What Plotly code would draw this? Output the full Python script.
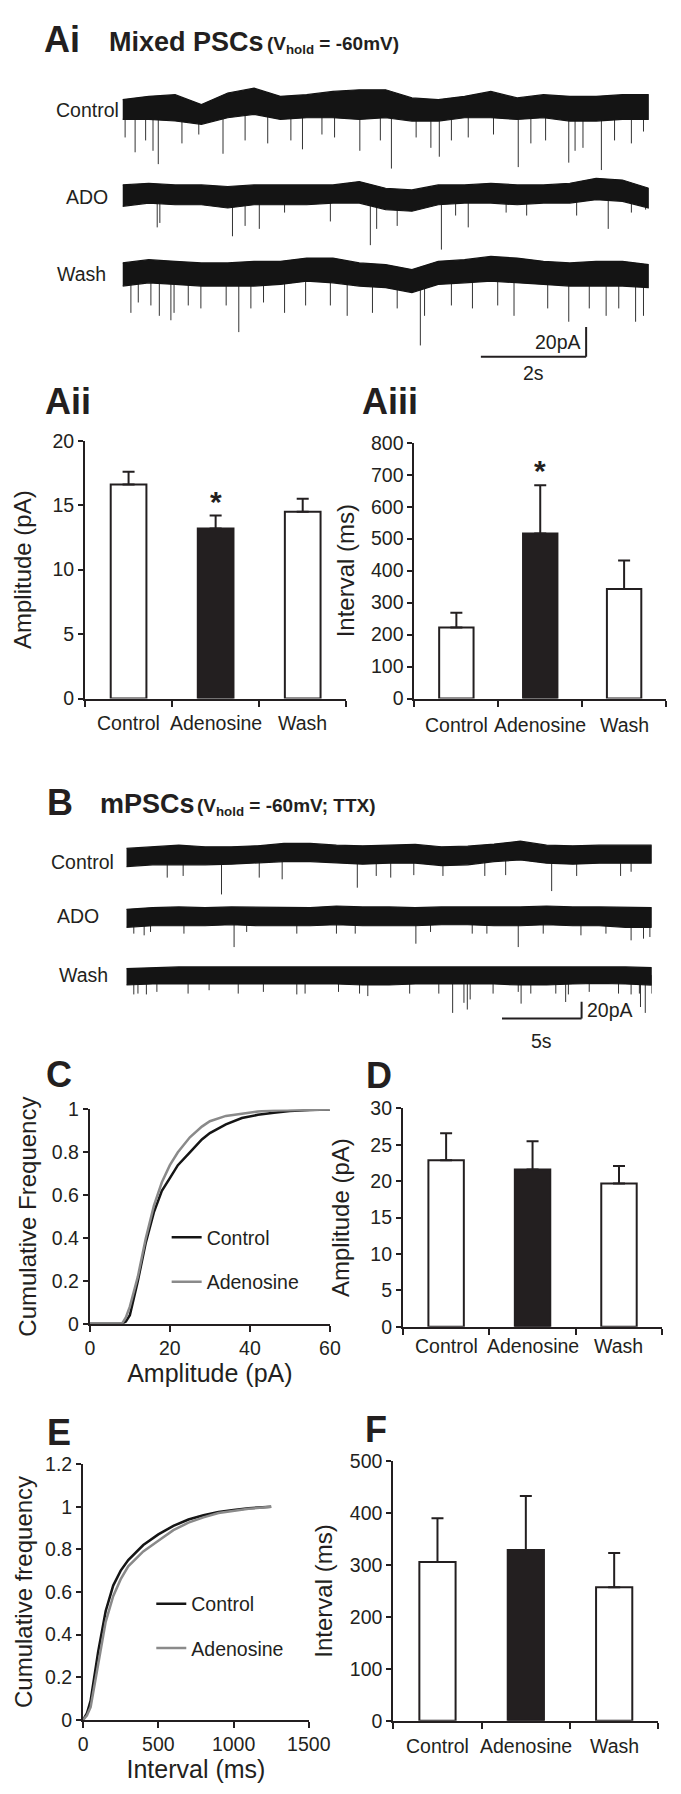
import plotly.graph_objects as go

# ---------------- data ----------------
CONDITIONS = ["Control", "Adenosine", "Wash"]

# Ai traces (time s, current pA relative to baseline)
AI_ENV_T = [0.0, 0.5, 1.0, 1.5, 2.0, 2.5, 3.0, 3.5, 4.0, 4.5, 5.0, 5.5, 6.0, 6.5, 7.0, 7.5, 8.0, 8.5, 9.0, 9.5, 10.0]
AI_CTRL_TOP = [7.6, 9.8, 10.9, 4.2, 12.0, 15.3, 9.8, 10.9, 13.1, 14.2, 14.2, 8.7, 7.6, 9.8, 13.1, 8.7, 10.9, 9.8, 9.8, 10.9, 10.9]
AI_CTRL_BOT = [-5.8, -5.8, -6.9, -9.1, -4.7, -2.4, -5.8, -4.7, -4.7, -5.8, -4.7, -6.9, -6.9, -4.7, -4.7, -5.8, -4.7, -6.9, -6.9, -5.8, -5.8]
AI_ADO_TOP = [6.7, 7.8, 6.7, 6.7, 5.6, 6.7, 6.7, 6.7, 6.7, 8.9, 4.4, 3.3, 6.7, 6.7, 7.8, 6.7, 6.7, 7.8, 11.1, 10.0, 4.4]
AI_ADO_BOT = [-7.8, -5.6, -6.7, -6.7, -8.9, -6.7, -6.7, -6.7, -5.6, -5.6, -10.0, -11.1, -6.7, -5.6, -5.6, -6.7, -5.6, -5.6, -3.3, -4.4, -8.9]
AI_WASH_TOP = [6.7, 8.9, 7.8, 6.7, 6.7, 7.8, 7.8, 10.0, 10.0, 6.7, 5.6, 2.2, 7.8, 8.9, 11.1, 10.0, 7.8, 6.7, 7.8, 7.8, 5.6]
AI_WASH_BOT = [-8.9, -6.7, -7.8, -8.9, -8.9, -8.9, -7.8, -5.6, -6.7, -8.9, -10.0, -13.3, -7.8, -6.7, -5.6, -6.7, -7.8, -8.9, -8.9, -8.9, -10.0]

AI_CTRL_EV_T = [0.05, 0.24, 0.44, 0.58, 0.68, 1.13, 1.45, 1.91, 2.33, 2.76, 3.20, 3.42, 3.79, 4.03, 4.51, 4.90, 5.11, 5.58, 5.86, 6.02, 6.25, 6.57, 7.05, 7.52, 7.76, 8.04, 8.48, 8.60, 8.75, 9.10, 9.35, 9.67, 9.90]
AI_CTRL_EV_A = [-18, -28, -20, -27, -36, -22, -16, -29, -20, -22, -20, -26, -16, -18, -27, -20, -39, -18, -25, -31, -20, -18, -16, -38, -22, -20, -35, -27, -25, -40, -20, -22, -14]
AI_ADO_EV_T = [0.66, 0.71, 2.09, 2.33, 2.60, 3.08, 3.95, 4.71, 4.83, 5.22, 6.06, 6.33, 6.57, 7.29, 7.68, 8.63, 9.23, 9.67, 9.94]
AI_ADO_EV_A = [-22, -19, -28, -21, -23, -12, -18, -34, -23, -21, -37, -14, -22, -12, -14, -14, -23, -12, -10]
AI_WASH_EV_T = [0.16, 0.30, 0.54, 0.70, 0.92, 0.98, 1.25, 1.49, 1.97, 2.21, 2.44, 2.68, 3.08, 3.48, 3.95, 4.27, 4.75, 5.22, 5.66, 5.74, 6.25, 6.65, 7.13, 7.44, 8.08, 8.48, 8.87, 9.19, 9.43, 9.75, 9.90]
AI_WASH_EV_A = [-27, -20, -22, -29, -32, -27, -22, -24, -22, -40, -24, -20, -27, -22, -22, -29, -27, -24, -49, -29, -22, -24, -22, -29, -24, -33, -24, -29, -24, -33, -29]

# B traces (mPSCs)
B_ENV_T = [0.0, 1.65, 3.3, 4.95, 6.6, 8.25, 9.9, 11.55, 13.2, 14.85, 16.5, 18.15, 19.8, 21.45, 23.1, 24.75, 26.4, 28.05, 29.7, 31.35, 33.0]
B_CTRL_TOP = [9.8, 11.8, 13.7, 11.8, 11.8, 12.9, 15.7, 15.7, 13.7, 12.9, 13.7, 14.5, 11.8, 12.5, 14.9, 18.4, 13.7, 12.9, 13.7, 13.7, 13.7]
B_CTRL_BOT = [-11.8, -9.8, -9.8, -9.8, -9.0, -7.8, -5.9, -5.9, -7.8, -9.0, -7.8, -7.8, -10.6, -9.8, -5.9, -3.9, -7.8, -9.0, -7.8, -7.8, -7.8]
B_ADO_TOP = [9.0, 11.0, 11.8, 11.0, 11.8, 11.8, 11.8, 11.0, 12.9, 11.8, 11.8, 11.0, 11.8, 11.8, 11.0, 11.8, 12.9, 11.8, 11.8, 11.8, 11.0]
B_ADO_BOT = [-12.5, -10.6, -10.6, -10.6, -9.4, -10.6, -10.6, -10.6, -9.4, -10.6, -10.6, -10.6, -9.4, -9.4, -10.6, -10.6, -9.4, -10.6, -10.6, -12.5, -12.5]
B_WASH_TOP = [7.8, 9.0, 9.8, 9.8, 9.8, 9.8, 10.6, 9.8, 9.8, 9.8, 9.8, 10.6, 9.8, 10.6, 9.8, 9.8, 9.8, 9.8, 9.8, 9.8, 9.0]
B_WASH_BOT = [-11.8, -10.6, -9.8, -9.8, -9.8, -9.8, -9.8, -10.6, -10.6, -11.8, -11.8, -10.6, -10.6, -10.6, -10.6, -11.8, -11.8, -10.6, -9.8, -10.6, -11.8]

B_CTRL_EV_T = [2.57, 3.57, 5.98, 8.35, 9.79, 14.51, 15.70, 16.61, 18.06, 19.89, 22.52, 23.83, 26.72, 28.29, 31.05, 31.71]
B_CTRL_EV_A = [-25, -23, -45, -25, -27, -37, -23, -25, -22, -23, -23, -22, -41, -23, -23, -18]
B_ADO_EV_T = [0.47, 1.12, 1.52, 3.62, 6.77, 7.56, 10.71, 13.20, 14.38, 18.19, 19.11, 21.73, 22.65, 24.62, 26.19, 28.56, 30.13, 31.71, 32.49, 32.89]
B_ADO_EV_A = [-20, -22, -18, -20, -36, -18, -20, -20, -20, -32, -18, -20, -20, -36, -20, -22, -20, -28, -26, -24]
B_WASH_EV_T = [0.47, 0.73, 1.26, 1.92, 3.88, 5.20, 7.03, 8.61, 10.71, 11.23, 13.33, 14.65, 15.17, 17.80, 19.63, 20.5, 21.21, 21.42, 21.60, 23.04, 24.62, 24.8, 25.41, 26.98, 27.6, 27.77, 29.08, 30.92, 31.71, 32.23, 32.3, 32.6, 33.0]
B_WASH_EV_A = [-23, -22, -23, -20, -22, -18, -22, -20, -23, -22, -20, -22, -25, -22, -22, -45, -33, -41, -29, -22, -20, -34, -22, -22, -32, -23, -20, -22, -23, -22, -38, -45, -22]

# Bar summaries (mean, SEM)
AII_AMP = [16.6, 13.2, 14.5]
AII_AMP_ERR = [1.0, 1.0, 1.0]
AIII_INT = [222, 516, 343]
AIII_INT_ERR = [46, 151, 89]
D_AMP = [22.9, 21.6, 19.7]
D_AMP_ERR = [3.7, 3.9, 2.4]
F_INT = [306, 329, 257]
F_INT_ERR = [84, 104, 66]

# Cumulative distributions
C_AMP_X = [0, 8, 9, 10, 12, 14, 16, 18, 20, 22, 25, 28, 30, 34, 38, 42, 46, 50, 55, 60]
C_CTRL_Y = [0, 0, 0.01, 0.04, 0.2, 0.38, 0.52, 0.62, 0.68, 0.74, 0.80, 0.86, 0.89, 0.93, 0.96, 0.975, 0.985, 0.993, 0.998, 1.0]
C_ADO_Y = [0, 0, 0.03, 0.08, 0.22, 0.40, 0.55, 0.66, 0.74, 0.80, 0.87, 0.92, 0.945, 0.97, 0.98, 0.99, 0.995, 0.997, 0.999, 1.0]
E_INT_X = [0, 25, 50, 75, 100, 150, 200, 250, 300, 400, 500, 600, 700, 800, 900, 1000, 1100, 1250]
E_CTRL_Y = [0, 0.03, 0.09, 0.20, 0.32, 0.51, 0.63, 0.70, 0.75, 0.82, 0.87, 0.91, 0.94, 0.96, 0.975, 0.985, 0.993, 1.0]
E_ADO_Y = [0, 0.02, 0.06, 0.16, 0.28, 0.46, 0.58, 0.66, 0.72, 0.79, 0.84, 0.89, 0.925, 0.95, 0.97, 0.98, 0.99, 1.0]

# scale bars
AI_SCALE_S, AI_SCALE_PA = 2, 20
B_SCALE_S, B_SCALE_PA = 5, 20

# ---------------- layout helpers ----------------
W, H = 681, 1794
def xd(a, b): return [a / W, b / W]
def yd(top, bot): return [1 - bot / H, 1 - top / H]
def px(x): return x / W
def py(y): return 1 - y / H

INK = "#231f20"
REG = "Liberation Sans, Arial, Helvetica, sans-serif"
SMALL = 19.5

fig = go.Figure()
annotations = []
shapes = []

def band(t, top, bot, off, xa, ya):
    x = list(t) + list(t)[::-1]
    y = [off + v for v in top] + [off + v for v in bot][::-1]
    fig.add_trace(go.Scatter(x=x, y=y, mode="lines", fill="toself", fillcolor="#141414",
                             line=dict(color="#141414", width=1.2), xaxis=xa, yaxis=ya,
                             showlegend=False, hoverinfo="skip"))

def events(t, a, off, xa, ya):
    xs, ys = [], []
    for ti, ai in zip(t, a):
        xs += [ti, ti, None]
        ys += [off, off + ai, None]
    fig.add_trace(go.Scatter(x=xs, y=ys, mode="lines", line=dict(color="#333333", width=1),
                             xaxis=xa, yaxis=ya, showlegend=False, hoverinfo="skip"))

# Ai traces
AI_OFF = [-25.3, -82.0, -134.7]
for (top, bot, et, ea), off in zip([(AI_CTRL_TOP, AI_CTRL_BOT, AI_CTRL_EV_T, AI_CTRL_EV_A),
                                     (AI_ADO_TOP, AI_ADO_BOT, AI_ADO_EV_T, AI_ADO_EV_A),
                                     (AI_WASH_TOP, AI_WASH_BOT, AI_WASH_EV_T, AI_WASH_EV_A)], AI_OFF):
    events(et, ea, off, "x", "y")
    band(AI_ENV_T, top, bot, off, "x", "y")

# B traces
B_OFF = [-27.1, -98.8, -168.2]
for (top, bot, et, ea), off in zip([(B_CTRL_TOP, B_CTRL_BOT, B_CTRL_EV_T, B_CTRL_EV_A),
                                     (B_ADO_TOP, B_ADO_BOT, B_ADO_EV_T, B_ADO_EV_A),
                                     (B_WASH_TOP, B_WASH_BOT, B_WASH_EV_T, B_WASH_EV_A)], B_OFF):
    events(et, ea, off, "x4", "y4")
    band(B_ENV_T, top, bot, off, "x4", "y4")

# scale bars
ai_x0, ai_y0 = 6.81, -191.3
shapes += [dict(type="line", xref="x", yref="y", x0=ai_x0, x1=ai_x0 + AI_SCALE_S, y0=ai_y0, y1=ai_y0, line=dict(color=INK, width=2)),
           dict(type="line", xref="x", yref="y", x0=ai_x0 + AI_SCALE_S, x1=ai_x0 + AI_SCALE_S, y0=ai_y0, y1=ai_y0 + AI_SCALE_PA, line=dict(color=INK, width=2))]
annotations += [dict(x=ai_x0 + AI_SCALE_S, y=ai_y0 + AI_SCALE_PA / 2, xref="x", yref="y", text=f"{AI_SCALE_PA}pA",
                     xanchor="right", yanchor="middle", xshift=-3, showarrow=False, font=dict(family=REG, size=SMALL, color=INK)),
                dict(x=ai_x0 + AI_SCALE_S / 2, y=ai_y0, xref="x", yref="y", text=f"{AI_SCALE_S}s",
                     xanchor="center", yanchor="top", yshift=-3, showarrow=False, font=dict(family=REG, size=SMALL, color=INK))]
b_x0, b_y0 = 23.6, -220.0
shapes += [dict(type="line", xref="x4", yref="y4", x0=b_x0, x1=b_x0 + B_SCALE_S, y0=b_y0, y1=b_y0, line=dict(color=INK, width=2)),
           dict(type="line", xref="x4", yref="y4", x0=b_x0 + B_SCALE_S, x1=b_x0 + B_SCALE_S, y0=b_y0, y1=b_y0 + B_SCALE_PA, line=dict(color=INK, width=2))]
annotations += [dict(x=b_x0 + B_SCALE_S, y=b_y0 + B_SCALE_PA / 2, xref="x4", yref="y4", text=f"{B_SCALE_PA}pA",
                     xanchor="left", yanchor="middle", xshift=3, showarrow=False, font=dict(family=REG, size=SMALL, color=INK)),
                dict(x=b_x0 + B_SCALE_S / 2, y=b_y0, xref="x4", yref="y4", text=f"{B_SCALE_S}s",
                     xanchor="center", yanchor="top", yshift=-9, showarrow=False, font=dict(family=REG, size=SMALL, color=INK))]

# trace labels
for txt, x, y in [("Control", 78, 92), ("ADO", 77, 180), ("Wash", 71, 258),
                  ("Control", 72, 853), ("ADO", 68, 908), ("Wash", 73, 968)]:
    annotations.append(dict(x=px(x), y=py(y), xref="paper", yref="paper", text=txt, showarrow=False,
                            xanchor="center", yanchor="middle", font=dict(family=REG, size=SMALL, color=INK)))

# panel letters and titles
for txt, x, y in [("Ai", 30, 21), ("Aii", 31, 387), ("Aiii", 361, 387), ("B", 33, 793),
                  ("C", 32, 1069), ("D", 366, 1070), ("E", 33, 1431), ("F", 364, 1428)]:
    annotations.append(dict(x=px(x), y=py(y), xref="paper", yref="paper", text=f"<b>{txt}</b>", showarrow=False,
                            xanchor="left", yanchor="middle", font=dict(family=REG, size=36, color=INK)))
for big, small, xb, xs, yc in [("Mixed PSCs", "(V<sub>hold</sub> = -60mV)", 98, 262, 23),
                               ("mPSCs", "(V<sub>hold</sub> = -60mV; TTX)", 88, 190, 795)]:
    annotations.append(dict(x=px(xb), y=py(yc), xref="paper", yref="paper", showarrow=False, xanchor="left",
                            yanchor="middle", text=f"<b>{big}</b>", font=dict(family=REG, size=27, color=INK)))
    annotations.append(dict(x=px(xs), y=py(yc + 3), xref="paper", yref="paper", showarrow=False, xanchor="left",
                            yanchor="middle", text=f"<b>{small}</b>", font=dict(family=REG, size=19, color=INK)))

# bar charts
def bars(vals, errs, xa, ya):
    fig.add_trace(go.Bar(x=[0, 1, 2], y=vals, width=0.41, xaxis=xa, yaxis=ya, showlegend=False,
                         marker=dict(color=["white", INK, "white"], line=dict(color=INK, width=2)),
                         error_y=dict(type="data", symmetric=False, array=errs, arrayminus=[0, 0, 0],
                                      color=INK, thickness=2, width=6), hoverinfo="skip"))

bars(AII_AMP, AII_AMP_ERR, "x2", "y2")
bars(AIII_INT, AIII_INT_ERR, "x3", "y3")
bars(D_AMP, D_AMP_ERR, "x6", "y6")
bars(F_INT, F_INT_ERR, "x8", "y8")

# significance stars
for xa, ya, vals, errs in [("x2", "y2", AII_AMP, AII_AMP_ERR), ("x3", "y3", AIII_INT, AIII_INT_ERR)]:
    annotations.append(dict(x=1, y=vals[1] + errs[1], xref=xa, yref=ya, text="<b>*</b>", showarrow=False,
                            xanchor="center", yanchor="bottom", yshift=-4, font=dict(family=REG, size=30, color=INK)))

# category labels
for xa, ypx in [("x2", 713), ("x3", 715), ("x6", 1343), ("x8", 1748)]:
    for i, c in enumerate(CONDITIONS):
        annotations.append(dict(x=i, y=py(ypx), xref=xa, yref="paper", text=c, showarrow=False,
                                xanchor="center", yanchor="middle", font=dict(family=REG, size=SMALL, color=INK)))

# cumulative curves
fig.add_trace(go.Scatter(x=C_AMP_X, y=C_CTRL_Y, mode="lines", name="Control", line=dict(color="#151515", width=2.5),
                         xaxis="x5", yaxis="y5", legend="legend", legendgroup="c1"))
fig.add_trace(go.Scatter(x=C_AMP_X, y=C_ADO_Y, mode="lines", name="Adenosine", line=dict(color="#8a8a8a", width=2.5),
                         xaxis="x5", yaxis="y5", legend="legend", legendgroup="c2"))
fig.add_trace(go.Scatter(x=E_INT_X, y=E_CTRL_Y, mode="lines", name="Control", line=dict(color="#151515", width=2.5),
                         xaxis="x7", yaxis="y7", legend="legend2", legendgroup="e1"))
fig.add_trace(go.Scatter(x=E_INT_X, y=E_ADO_Y, mode="lines", name="Adenosine", line=dict(color="#8a8a8a", width=2.5),
                         xaxis="x7", yaxis="y7", legend="legend2", legendgroup="e2"))

TICKF = dict(family=REG, size=SMALL, color=INK)
TITLEF = dict(family=REG, size=24, color=INK)

def hidden(dom, rng):
    return dict(domain=dom, range=rng, visible=False, fixedrange=True)

def bar_x(dom, anchor):
    return dict(domain=dom, range=[-0.5, 2.5], anchor=anchor, tickvals=[-0.5, 0.5, 1.5, 2.5], showticklabels=False,
                ticks="outside", ticklen=6, tickwidth=2, tickcolor=INK, showline=True, linewidth=2, linecolor=INK,
                showgrid=False, zeroline=False)

def val_y(dom, rng, dtick, anchor, title, standoff):
    return dict(domain=dom, range=rng, dtick=dtick, anchor=anchor, ticks="outside", ticklen=5, tickwidth=2,
                tickcolor=INK, showline=True, linewidth=2, linecolor=INK, showgrid=False, zeroline=False,
                tickfont=TICKF, title=dict(text=title, font=TITLEF, standoff=standoff))

def val_x(dom, rng, dtick, anchor, title, standoff):
    return dict(domain=dom, range=rng, dtick=dtick, anchor=anchor, ticks="outside", ticklen=6, tickwidth=2,
                tickcolor=INK, showline=True, linewidth=2, linecolor=INK, showgrid=False, zeroline=False,
                tickfont=TICKF, title=dict(text=title, font=dict(family=REG, size=25, color=INK), standoff=standoff))

fig.update_layout(
    width=W, height=H, margin=dict(l=0, r=0, t=0, b=0),
    paper_bgcolor="white", plot_bgcolor="rgba(0,0,0,0)",
    xaxis=hidden(xd(114, 662), [0, 10]), yaxis=hidden(yd(55, 350), [-196.7, 0]),
    xaxis4=hidden(xd(118, 665), [0, 33]), yaxis4=hidden(yd(825, 1020), [-229.4, 0]),
    xaxis2=bar_x(xd(75, 347), "y2"), yaxis2=val_y(yd(427, 688), [0, 20], 5, "x2", "Amplitude (pA)", 14),
    xaxis3=bar_x(xd(418, 680), "y3"), yaxis3=val_y(yd(429, 688), [0, 800], 100, "x3", "Interval (ms)", 10),
    xaxis6=bar_x(xd(406, 676), "y6"), yaxis6=val_y(yd(1103, 1324), [0, 30], 5, "x6", "Amplitude (pA)", 14),
    xaxis8=bar_x(xd(396, 672), "y8"), yaxis8=val_y(yd(1460, 1723), [0, 500], 100, "x8", "Interval (ms)", 10),
    xaxis5=val_x(xd(80, 330), [0, 60], 20, "y5", "Amplitude (pA)", 2),
    yaxis5=val_y(yd(1104, 1321), [0, 1], 0.2, "x5", "Cumulative Frequency", 8),
    xaxis7=val_x(xd(73, 308), [0, 1500], 500, "y7", "Interval (ms)", 4),
    yaxis7=val_y(yd(1463, 1722), [0, 1.2], 0.2, "x7", "Cumulative frequency", 6),
    legend=dict(x=px(160), y=py(1214), xanchor="left", yanchor="top", font=dict(family=REG, size=SMALL, color=INK),
                bgcolor="rgba(0,0,0,0)", tracegroupgap=16, itemwidth=30),
    legend2=dict(x=px(144), y=py(1585), xanchor="left", yanchor="top", font=dict(family=REG, size=SMALL, color=INK),
                 bgcolor="rgba(0,0,0,0)", tracegroupgap=16, itemwidth=30),
    annotations=annotations, shapes=shapes,
)

fig.write_html("out.html")
